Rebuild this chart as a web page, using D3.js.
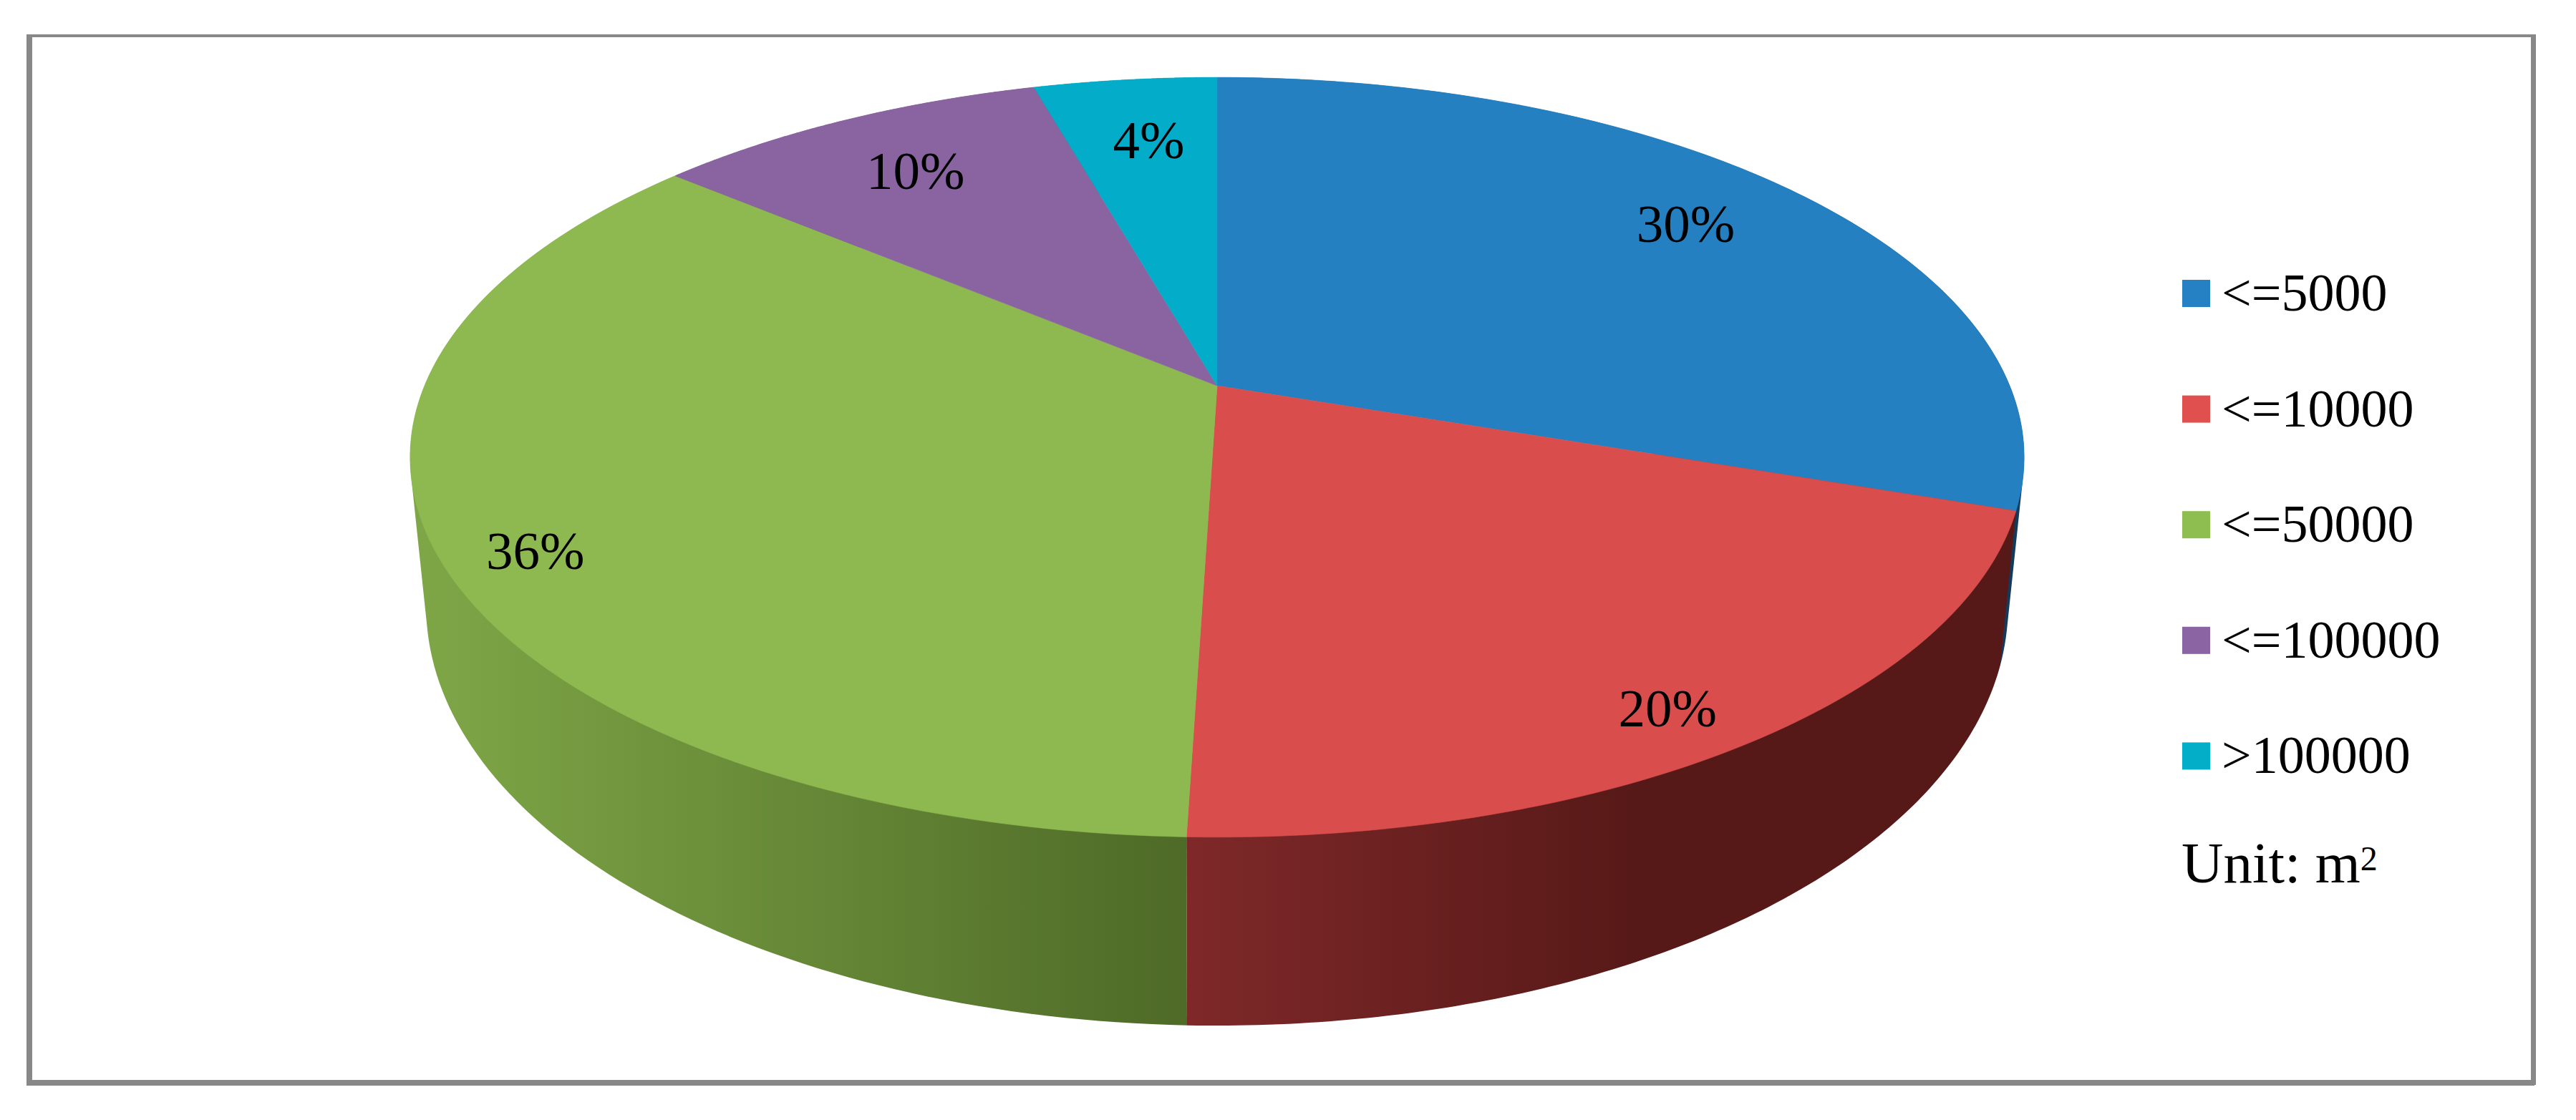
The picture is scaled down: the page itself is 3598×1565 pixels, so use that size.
<!DOCTYPE html>
<html>
<head>
<meta charset="utf-8">
<script src="https://cdn.jsdelivr.net/npm/d3@7/dist/d3.min.js"></script>
<style>
html,body{margin:0;padding:0;background:#fff}
svg{display:block}
text{font-family:"Liberation Serif","Times New Roman",serif;fill:#000}
</style>
</head>
<body>
<svg id="chart" width="3598" height="1565"></svg>
<script>
const categories = ["<=5000", "<=10000", "<=50000", "<=100000", ">100000"];
const values = [30.2, 20.3, 35.6, 9.5, 4.4];
const valueLabels = ["30%", "20%", "36%", "10%", "4%"];
const colors = ["#2480c0", "#d94e4c", "#8db950", "#8a63a1", "#03acc8"];
const legendColors = ["#2581c3", "#e0504f", "#8ebe50", "#8b64a4", "#03aec8"];
const wallStart = ["#1b5f90", "#7f2829", "#7fa747", "#5f4574", "#027f93"];
const wallEnd = ["#123a5c", "#561917", "#4e6a27", "#3f2e4d", "#015463"];
const unitLabel = "Unit: m";
const unitSup = "2";

// layout
const W = 3598, H = 1565;
const labelRadius = [0.806, 0.898, 0.895, 0.787, 0.775];
const labelShift = [-1.2, 1.85, -3.5, 0, 0.6];
const tilt = -0.1883;
const topFace = {cx: 1700, cy: 539, a: 1107, b: 512};
const baseFace = {cx: 1700, cy: 737, a: 1085, b: 565};

const svg = d3.select("#chart");
svg.append("rect").attr("width", W).attr("height", H).attr("fill", "#fff");

// frame
const frame = svg.append("g").attr("fill", "#888888");
[[37, 48, 3505, 4], [37, 1509, 3503, 8], [37, 48, 8, 1469], [3535, 48, 7, 1468]].forEach(r =>
  frame.append("rect").attr("x", r[0]).attr("y", r[1]).attr("width", r[2]).attr("height", r[3]));

// perspective projection of the unit disc onto the screen
const project = (face, angle, r = 1) => {
  const u = r * Math.sin(angle), v = -r * Math.cos(angle);
  const d = 1 + tilt * v;
  return [face.cx + face.a * u / d, face.cy + face.b * v / d];
};
const arcs = d3.pie().sort(null).value(d => d)(values);
const samples = (a) => d3.range(0, 121).map(i => a.startAngle + (a.endAngle - a.startAngle) * i / 120);
const line = d3.line();

const defs = svg.append("defs");
const order = [0, 4, 3, 2, 1];

// side walls
const wallG = svg.append("g");
order.forEach(i => {
  const a = arcs[i];
  const pts = samples(a).flatMap(t => [project(topFace, t), project(baseFace, t)]);
  const hull = d3.polygonHull(pts);
  const xs = d3.extent(pts, p => p[0]);
  const isLeft = i === 2;
  const gx = isLeft ? [xs[0], xs[1]] : [xs[0], xs[0] + (xs[1] - xs[0]) * (i === 1 ? 0.55 : 1)];
  const g = defs.append("linearGradient").attr("id", "wall" + i)
    .attr("gradientUnits", "userSpaceOnUse")
    .attr("x1", gx[0]).attr("x2", gx[1]).attr("y1", 0).attr("y2", 0);
  g.append("stop").attr("offset", 0).attr("stop-color", wallStart[i]);
  g.append("stop").attr("offset", 1).attr("stop-color", wallEnd[i]);
  wallG.append("path").attr("d", line(hull) + "Z").attr("fill", `url(#wall${i})`);
});

// top face
const topG = svg.append("g");
arcs.forEach((a, i) => {
  const pts = [project(topFace, 0, 0), ...samples(a).map(t => project(topFace, t))];
  topG.append("path").attr("d", line(pts) + "Z").attr("fill", colors[i])
    .attr("stroke", colors[i]).attr("stroke-width", 0.6);
});

// value labels
arcs.forEach((a, i) => {
  const mid = (a.startAngle + a.endAngle) / 2 + labelShift[i] * Math.PI / 180;
  const p = project(topFace, mid, labelRadius[i]);
  svg.append("text").attr("x", p[0]).attr("y", p[1] + 26)
    .attr("text-anchor", "middle").attr("font-size", 75).text(valueLabels[i]);
});

// legend
const rowY = d3.scaleLinear().domain([0, 1]).range([391, 552.6]);
const legend = svg.append("g");
categories.forEach((c, i) => {
  legend.append("rect").attr("x", 3048).attr("y", rowY(i)).attr("width", 39).attr("height", 38).attr("fill", legendColors[i]);
  legend.append("text").attr("x", 3103).attr("y", rowY(i) + 43).attr("font-size", 74).text(c);
});
const unit = legend.append("text").attr("x", 3047).attr("y", rowY(5) + 34).attr("font-size", 81);
unit.append("tspan").text(unitLabel);
unit.append("tspan").attr("dy", -17).attr("font-size", 48).text(unitSup);
</script>
</body>
</html>
